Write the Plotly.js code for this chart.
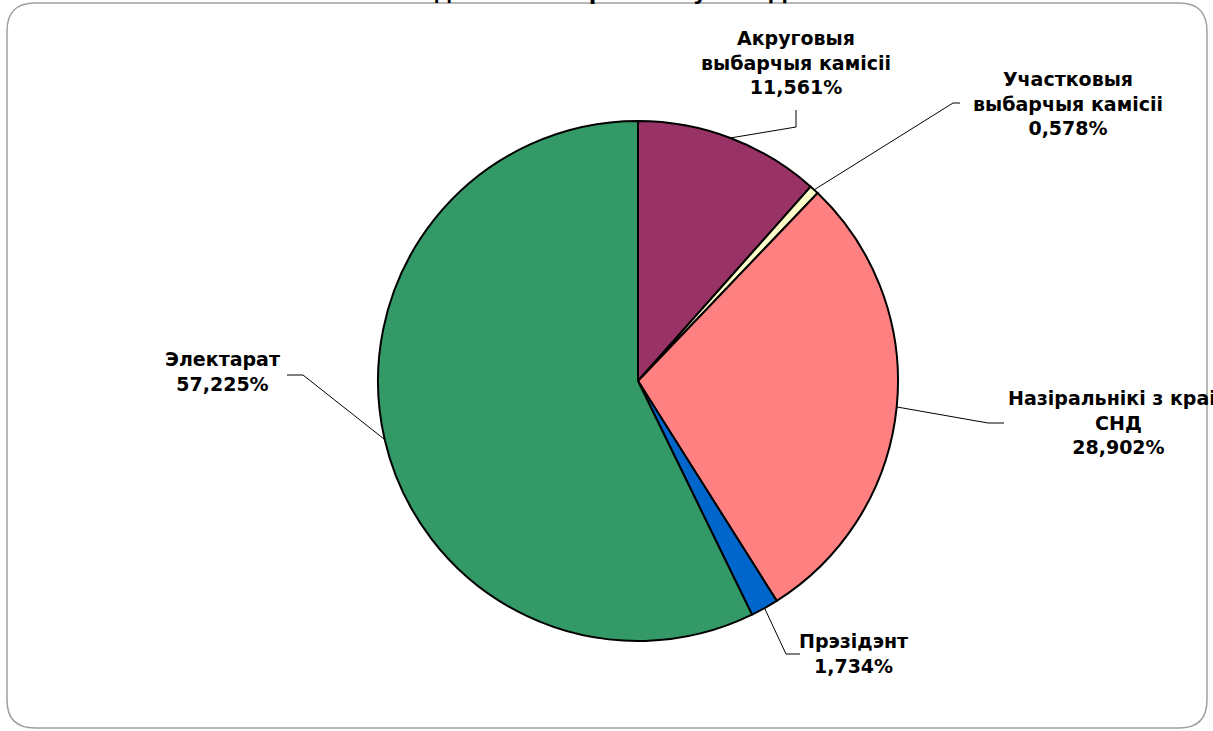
<!DOCTYPE html>
<html><head><meta charset="utf-8">
<script src="https://cdn.plot.ly/plotly-3.0.1.min.js"></script>
<style>html,body{margin:0;padding:0;background:#fff}#chart{width:1213px;height:731px}</style>
</head><body><div id="chart"></div>
<script>
// ---- data ----
const categories = ["Акруговыя выбарчыя камісіі", "Участковыя выбарчыя камісіі", "Назіральнікі з краін СНД", "Прэзідэнт", "Электарат"];
const labelLines = [["Акруговыя", "выбарчыя камісіі"], ["Участковыя", "выбарчыя камісіі"], ["Назіральнікі з краін", "СНД"], ["Прэзідэнт"], ["Электарат"]];
const values = [11.561, 0.578, 28.902, 1.734, 57.225];
const colors = ["#993366", "#FFFFCC", "#FF8080", "#0066CC", "#339966"];
const titleText = "Адзнакі выбаршчыкаў – СНД:";

// ---- layout helpers (pixels) ----
const W = 1213, H = 731;
const cx = 638, cy = 381, R = 260;
const labelLayout = [
  {elbow: [796, 127], end: [796, 110], text: [796, 62]},
  {elbow: [953, 103], end: [960, 103], text: [1068, 103]},
  {elbow: [988, 423], end: [1004, 423], text: [1118, 423]},
  {elbow: [786, 654], end: [800, 654], text: [853, 653]},
  {elbow: [303, 375], end: [287, 375], text: [223, 371]}
];
const px = x => x / W;
const py = y => 1 - y / H;
const fmt = v => v.toFixed(3).replace('.', ',') + '%';
const FONT = 'DejaVu Sans, Verdana, sans-serif';

const total = values.reduce((a, b) => a + b, 0);
let cum = 0;
const shapes = [];
const annotations = [];
values.forEach((v, i) => {
  const mid = (cum + v / 2) / total * 2 * Math.PI;
  cum += v;
  const sx = cx + R * Math.sin(mid), sy = cy - R * Math.cos(mid);
  const L = labelLayout[i];
  shapes.push({
    type: 'path', xref: 'paper', yref: 'paper', layer: 'above',
    path: `M ${px(sx)} ${py(sy)} L ${px(L.elbow[0])} ${py(L.elbow[1])} L ${px(L.end[0])} ${py(L.end[1])}`,
    line: {color: '#000', width: 1}
  });
  annotations.push({
    xref: 'paper', yref: 'paper', x: px(L.text[0]), y: py(L.text[1]),
    xanchor: 'center', yanchor: 'middle', showarrow: false, align: 'center',
    text: '<b>' + labelLines[i].concat([fmt(v)]).join('<br>') + '</b>',
    font: {family: FONT, size: 19, color: '#000'}
  });
});

// title, mostly above the top edge as in the reference
annotations.push({
  xref: 'paper', yref: 'paper', x: px(606), y: py(-8),
  xanchor: 'center', yanchor: 'middle', showarrow: false,
  text: '<b>' + titleText + '</b>',
  font: {family: FONT, size: 22, color: '#000'}
});

// rounded frame
const x0 = px(7), x1 = px(1207), y0 = py(3), y1 = py(728);
const rx = 28 / W, ry = 28 / H;
shapes.push({
  type: 'path', xref: 'paper', yref: 'paper', layer: 'below',
  path: `M ${x0 + rx} ${y0} L ${x1 - rx} ${y0} Q ${x1} ${y0} ${x1} ${y0 - ry} L ${x1} ${y1 + ry} Q ${x1} ${y1} ${x1 - rx} ${y1} L ${x0 + rx} ${y1} Q ${x0} ${y1} ${x0} ${y1 + ry} L ${x0} ${y0 - ry} Q ${x0} ${y0} ${x0 + rx} ${y0} Z`,
  line: {color: '#a0a0a0', width: 1.5}
});

const trace = {
  type: 'pie', labels: categories, values: values,
  sort: false, direction: 'clockwise', rotation: 0,
  marker: {colors: colors, line: {color: '#000', width: 2}},
  textinfo: 'none', hoverinfo: 'label+percent',
  domain: {x: [px(cx - R), px(cx + R)], y: [py(cy + R), py(cy - R)]},
  showlegend: false
};

const layout = {
  width: W, height: H,
  margin: {l: 0, r: 0, t: 0, b: 0},
  paper_bgcolor: '#fff',
  shapes: shapes, annotations: annotations, showlegend: false
};
Plotly.newPlot('chart', [trace], layout, {displayModeBar: false, staticPlot: true});
</script></body></html>
